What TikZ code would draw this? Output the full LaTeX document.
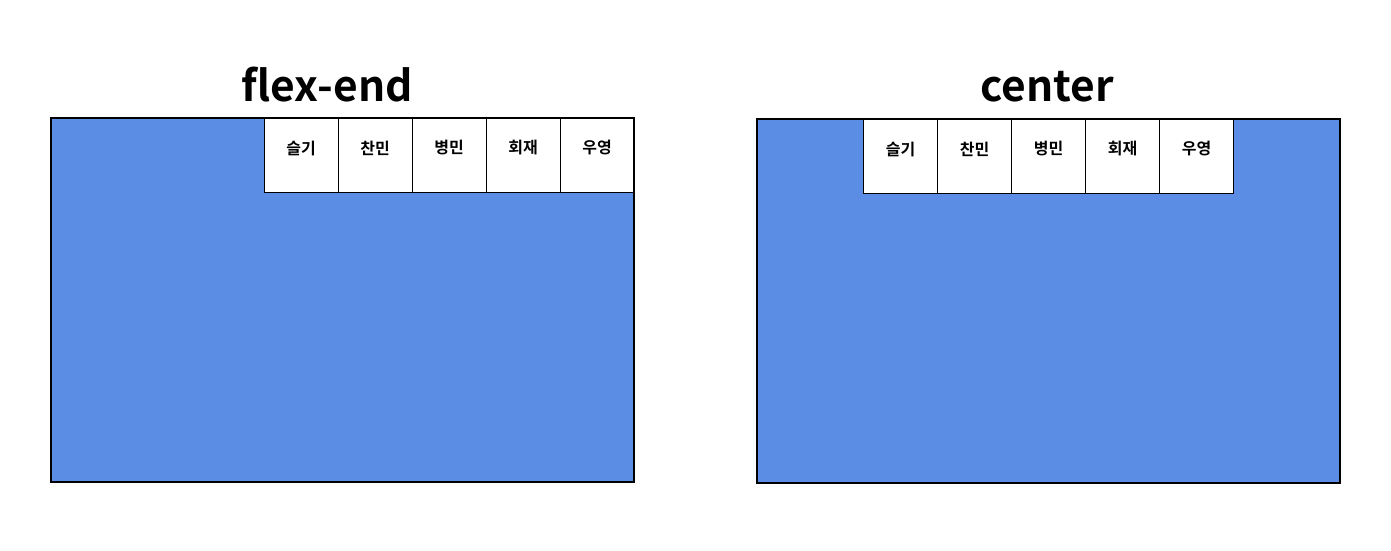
\documentclass[tikz,border=0pt]{standalone}
\usepackage{fontspec}
\newfontfamily\krfont{Noto Sans CJK KR Bold}
\usetikzlibrary{positioning}
\definecolor{flexblue}{HTML}{5A8DE3}

\tikzset{
    box/.style={draw, line width=2pt, fill=flexblue, minimum width=583pt, minimum height=364pt, inner sep=0, outer sep=0},
    item/.style={draw, line width=1pt, fill=white, minimum size=74pt, inner sep=0, outer sep=0,
        label={[font=\krfont\fontsize{16}{18}\selectfont, anchor=center, yshift=-30pt]north:#1}},
    title/.style={font=\krfont\fontsize{42.5}{48}\selectfont, anchor=base}
}

\begin{document}
\begin{tikzpicture}[x=1pt, y=-1pt]
    \useasboundingbox (0,0) rectangle (1391,550);
    % flex-end
    \node[title] (t1) at (327,101) {flex-end};
    \node[box, anchor=north west] (c1) at (51,118) {};
    \node[item=우영, anchor=north east] (a5) at (c1.north east) {};
    \node[item=회재, left=0pt of a5] (a4) {};
    \node[item=병민, left=0pt of a4] (a3) {};
    \node[item=찬민, left=0pt of a3] (a2) {};
    \node[item=슬기, left=0pt of a2] (a1) {};
    \draw[line width=2pt] (c1.north west) rectangle (c1.south east);
    % center
    \node[title] (t2) at (1047,101) {center};
    \node[box, anchor=north west] (c2) at (757,119) {};
    \node[item=병민, anchor=north] (b3) at (c2.north) {};
    \node[item=찬민, left=0pt of b3] (b2) {};
    \node[item=슬기, left=0pt of b2] (b1) {};
    \node[item=회재, right=0pt of b3] (b4) {};
    \node[item=우영, right=0pt of b4] (b5) {};
    \draw[line width=2pt] (c2.north west) rectangle (c2.south east);
\end{tikzpicture}
\end{document}
